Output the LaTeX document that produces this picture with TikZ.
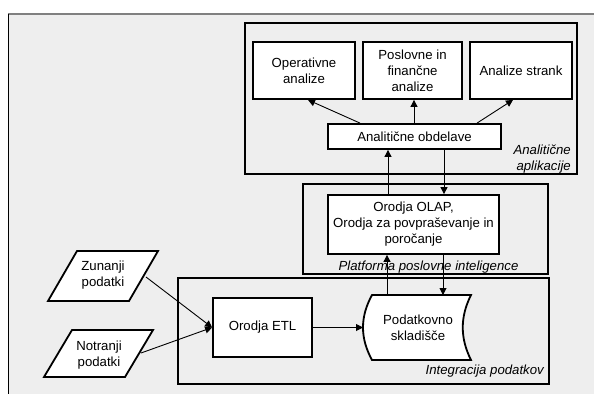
\documentclass[tikz,border=0pt]{standalone}
\usepackage{fontspec}
\setmainfont{Liberation Sans}
\usetikzlibrary{arrows.meta}
\definecolor{bgc}{HTML}{EEEEEE}
\definecolor{topline}{HTML}{808080}
\begin{document}
\begin{tikzpicture}[x=1pt,y=-1pt,
  box/.style={draw, line width=1.8pt, fill=white, inner sep=0pt, align=center,
    font=\fontsize{13.2}{16}\selectfont},
  grp/.style={draw, line width=1.8pt, inner sep=0pt},
  arr/.style={line width=0.9pt, -{Triangle[length=7pt,width=7pt]}},
  txt/.style={inner sep=0pt, align=center, font=\fontsize{13.2}{16}\selectfont},
  lbl/.style={inner sep=0pt, font=\fontsize{13.2}{16}\selectfont\itshape}]
\useasboundingbox (0,0) rectangle (594,394);
% background
\fill[bgc] (8,14) rectangle (594,394);
\draw[topline, line width=1.3pt] (8,14) -- (594,14);
\draw[black, line width=0.8pt] (8,14) -- (8,394);

% group boxes
\node[grp, minimum width=332, minimum height=151] (app) at (411,98.5) {};
\node[grp, minimum width=245, minimum height=90] (plat) at (425.5,229) {};
\node[grp, minimum width=371, minimum height=106] (integ) at (363.5,331) {};

\node[lbl, anchor=east, align=right] (applbl) at (571,159.5) {Analitične\\aplikacije};
\node[lbl] (platlbl) at (428.5,267) {Platforma poslovne inteligence};
\node[lbl, anchor=east] (integlbl) at (544,371) {Integracija podatkov};

% boxes
\node[box, minimum width=102, minimum height=57] (oper) at (304,70.5) {Operativne\\analize};
\node[box, minimum width=99, minimum height=57] (posl) at (412.5,70.5) {Poslovne in\\finančne\\analize};
\node[box, minimum width=102, minimum height=57] (strank) at (521,70.5) {Analize strank};
\node[box, minimum width=173, minimum height=25] (obd) at (414.5,136.5) {Analitične obdelave};
\node[box, minimum width=171, minimum height=59] (olap) at (413.5,224.5) {Orodja OLAP,\\Orodja za povpraševanje in\\poročanje};
\node[box, minimum width=99, minimum height=59] (etl) at (262.5,327.5) {Orodja ETL};

% stored data shape
\draw[line width=1.8pt, fill=white] (372,295) -- (471,295)
  .. controls (460,317) and (460,338) .. (471,360) -- (372,360)
  .. controls (360,338) and (360,317) .. (372,295) -- cycle;
\node[txt] (dw) at (418,327.5) {Podatkovno\\skladišče};
\coordinate (dwW) at (363,327.5);

% parallelograms
\draw[line width=1.8pt, fill=white] (77,251) -- (158,251) -- (129,301) -- (48,301) -- cycle;
\node[txt] (zun) at (103,275) {Zunanji\\podatki};
\draw[line width=1.8pt, fill=white] (72,330) -- (153,330) -- (125,377) -- (44,377) -- cycle;
\node[txt] (notr) at (99,355) {Notranji\\podatki};
\coordinate (zunE) at (146,277);
\coordinate (notrE) at (141,353);

% connectors
\draw[arr] (obd.north -| 360,0) -- (oper.south -| 308,0);
\draw[arr] (obd.north -| 414,0) -- (posl.south -| 414,0);
\draw[arr] (obd.north -| 477,0) -- (strank.south -| 513,0);
\draw[arr] (olap.north -| 388,0) -- (obd.south -| 388,0);
\draw[arr] (obd.south -| 444,0) -- (olap.north -| 444,0);
\draw[arr] (387,295) -- (olap.south -| 387,0);
\draw[arr] (olap.south -| 443,0) -- (443,295);
\draw[arr] (zunE) -- (etl.west);
\draw[arr] (notrE) -- (etl.west);
\draw[arr] (etl.east) -- (dwW);
\end{tikzpicture}
\end{document}
